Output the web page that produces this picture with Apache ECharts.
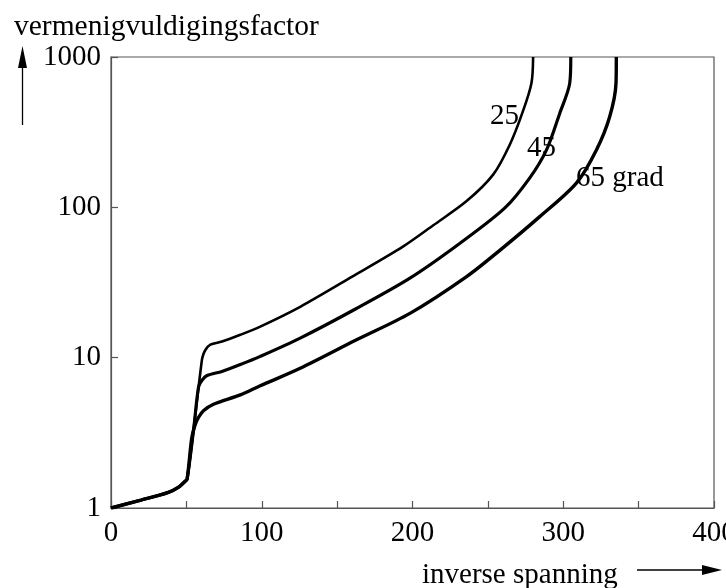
<!DOCTYPE html>
<html>
<head>
<meta charset="utf-8">
<script src="https://cdn.jsdelivr.net/npm/echarts@6/dist/echarts.min.js"></script>
<style>
html,body{margin:0;padding:0;background:#fff;}
#chart{width:726px;height:588px;}
</style>
</head>
<body>
<div id="chart"></div>
<script>
// ---- data ----
const xTickLabels = [0, 100, 200, 300, 400];
const yTickLabels = [1, 10, 100, 1000];
const seriesNames = ['25', '45', '65 grad'];

const x25 = [0, 20, 38, 45, 49, 50.5, 54.9, 58.1, 59.6, 60.6, 62.5, 65.9, 73.6, 85.8, 99.0, 125.5, 160, 193.9, 213.8, 235.9, 253.5, 264.6, 272.8, 278.9, 280];
const y25 = [1, 1.13, 1.27, 1.38, 1.5, 1.56, 3.4, 6.4, 8.5, 10.0, 11.2, 12.2, 12.8, 14.2, 16.1, 21.8, 34.6, 55, 76, 110, 165, 262, 423, 670, 1000];

const x45 = [0, 20, 38, 45, 49, 50.5, 54.9, 58.1, 60.5, 63.7, 73.6, 85.8, 99.0, 125.5, 161.9, 198.3, 231.5, 261.3, 277.8, 288.9, 297.7, 304.3, 305];
const y45 = [1, 1.13, 1.27, 1.38, 1.5, 1.56, 3.4, 6.4, 7.1, 7.6, 8.1, 9.0, 10.2, 13.5, 21.0, 33.8, 57.7, 99.1, 157, 241, 423, 670, 1000];

const x65 = [0, 20, 38, 45, 49, 50.5, 53.5, 55.5, 58, 61.5, 68, 85.8, 99.0, 125.5, 161.9, 198.3, 235.9, 257.9, 284.4, 308.7, 322.0, 330.8, 335.0, 335.2];
const y65 = [1, 1.13, 1.27, 1.38, 1.5, 1.56, 2.9, 3.5, 4.0, 4.45, 4.9, 5.65, 6.5, 8.5, 13.0, 19.7, 34.6, 51.7, 86.7, 145, 241, 401, 670, 1000];

function pairs(xs, ys) { return xs.map((x, i) => [x, ys[i]]); }

const FONT = '"Liberation Serif", "Times New Roman", serif';
const chart = echarts.init(document.getElementById('chart'), null, {renderer: 'canvas'});

const lineSeries = (name, xs, ys, w) => ({
  name: name,
  type: 'line',
  data: pairs(xs, ys),
  showSymbol: false,
  smooth: 0.3,
  lineStyle: {color: '#000', width: w},
  clip: true,
  animation: false
});

chart.setOption({
  animation: false,
  backgroundColor: '#fff',
  textStyle: {fontFamily: FONT},
  title: {
    text: 'vermenigvuldigingsfactor',
    left: 9, top: 7,
    textStyle: {fontFamily: FONT, fontSize: 29.5, fontWeight: 'normal', color: '#000'}
  },
  grid: {
    left: 111, right: 12, top: 57, bottom: 80,
    outerBoundsMode: 'none',
    containLabel: false,
    show: true, borderColor: '#555', borderWidth: 1.2, backgroundColor: 'transparent'
  },
  xAxis: {
    type: 'value', min: 0, max: 400, interval: 50,
    axisLine: {show: true, lineStyle: {color: '#555', width: 1.2}},
    axisTick: {show: true, inside: true, length: 7, lineStyle: {color: '#555', width: 1.2}},
    splitLine: {show: false},
    axisLabel: {
      margin: 11, fontFamily: FONT, fontSize: 29, color: '#000',
      formatter: v => xTickLabels.indexOf(v) >= 0 ? String(v) : ''
    }
  },
  yAxis: {
    type: 'log', logBase: 10, min: 1, max: 1000,
    axisLine: {show: true, lineStyle: {color: '#555', width: 1.2}},
    axisTick: {show: true, inside: true, length: 7, lineStyle: {color: '#555', width: 1.2}},
    splitLine: {show: false},
    minorTick: {show: false},
    axisLabel: {
      margin: 10, fontFamily: FONT, fontSize: 29, color: '#000',
      formatter: v => yTickLabels.indexOf(Math.round(v)) >= 0 ? String(Math.round(v)) : ''
    }
  },
  series: [
    lineSeries(seriesNames[0], x25, y25, 2.6),
    lineSeries(seriesNames[1], x45, y45, 3.2),
    lineSeries(seriesNames[2], x65, y65, 3.4)
  ],
  graphic: [
    {type: 'text', left: 490, top: 102, z: 10,
     style: {text: seriesNames[0], font: '29px ' + FONT, fill: '#000'}},
    {type: 'text', left: 527, top: 134, z: 10,
     style: {text: seriesNames[1], font: '29px ' + FONT, fill: '#000'}},
    {type: 'text', left: 576, top: 164, z: 10,
     style: {text: seriesNames[2], font: '29px ' + FONT, fill: '#000'}},
    {type: 'text', left: 422, top: 561, z: 10,
     style: {text: 'inverse spanning', font: '29px ' + FONT, fill: '#000'}},
    // y arrow
    {type: 'line', shape: {x1: 22.5, y1: 125, x2: 22.5, y2: 64}, style: {stroke: '#000', lineWidth: 1.3}},
    {type: 'polygon', shape: {points: [[18, 68], [27, 68], [22.5, 46]]}, style: {fill: '#000'}},
    // x arrow
    {type: 'line', shape: {x1: 637, y1: 570, x2: 706, y2: 570}, style: {stroke: '#000', lineWidth: 1.3}},
    {type: 'polygon', shape: {points: [[702, 565], [702, 575], [722, 570]]}, style: {fill: '#000'}}
  ]
});
</script>
</body>
</html>
